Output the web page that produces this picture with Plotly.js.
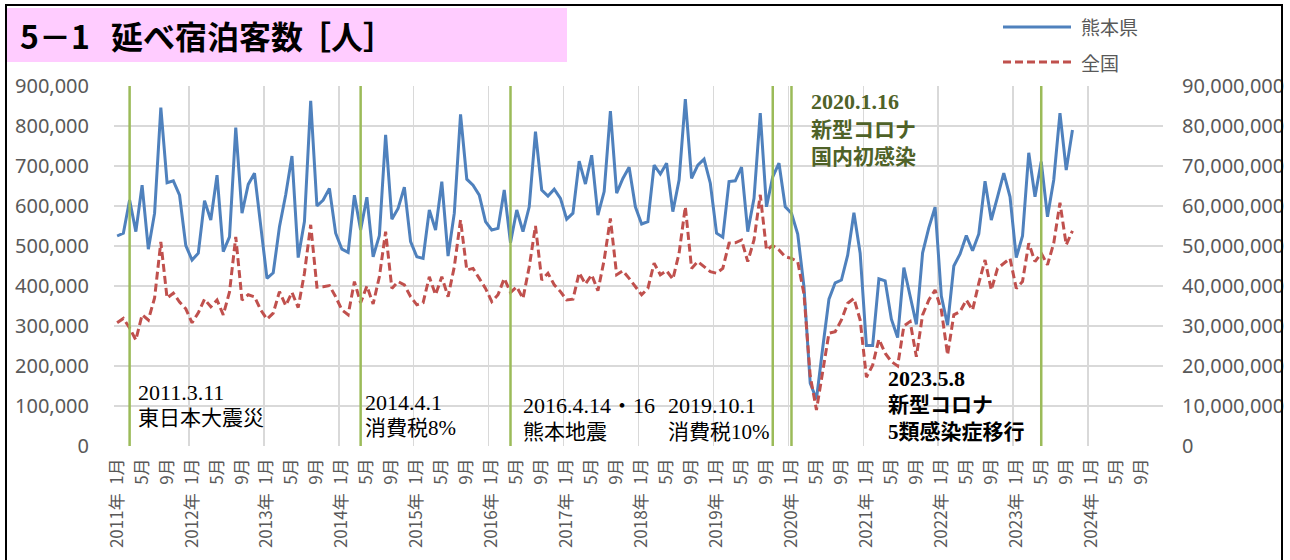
<!DOCTYPE html>
<html><head><meta charset="utf-8">
<script src="https://cdn.plot.ly/plotly-3.0.1.min.js"></script>
<style>html,body{margin:0;padding:0;background:#fff;}#chart{width:1290px;height:560px;}</style>
</head><body><div id="chart"></div>
<script>
// ---- data ----
const years = [2011,2012,2013,2014,2015,2016,2017,2018,2019,2020,2021,2022,2023,2024];
const monthNums = [1,2,3,4,5,6,7,8,9,10,11,12];
const tickMonths = [1,5,9];

// 熊本県 延べ宿泊客数 (人), 2011年1月〜2023年10月
const kumamoto = [
 525000,532000,615000,536000,652000,492000,582000,846000,658000,663000,627000,501000,
 465000,482000,613000,565000,677000,486000,523000,796000,582000,654000,682000,551000,
 419000,433000,548000,628000,725000,471000,561000,863000,600000,615000,644000,532000,
 492000,484000,627000,540000,622000,473000,526000,778000,567000,594000,647000,511000,
 473000,469000,590000,540000,661000,475000,582000,829000,667000,652000,627000,561000,
 540000,544000,640000,508000,590000,536000,598000,786000,640000,625000,642000,619000,
 567000,582000,712000,655000,727000,577000,636000,837000,632000,669000,697000,598000,
 555000,561000,702000,680000,707000,586000,665000,867000,669000,702000,717000,657000,
 532000,522000,661000,663000,697000,536000,619000,832000,598000,673000,707000,598000,
 582000,530000,398000,157000,117000,245000,367000,408000,415000,477000,583000,482000,
 251000,251000,418000,413000,317000,271000,446000,375000,304000,483000,546000,597000,
 375000,302000,450000,480000,526000,488000,530000,662000,565000,623000,682000,623000,
 471000,525000,733000,623000,711000,573000,665000,832000,690000,790000
];
// 全国 延べ宿泊客数 (人)
const zenkoku = [
 30800000,31900000,29500000,26500000,32800000,31500000,37000000,51000000,37000000,38200000,36000000,34300000,
 30800000,33300000,36700000,34800000,36500000,32800000,38500000,52300000,36500000,37800000,37300000,34000000,
 31700000,33200000,38600000,35100000,38400000,34600000,43200000,55300000,39700000,39800000,40100000,37300000,
 34000000,32800000,41100000,35800000,40000000,35500000,42300000,53600000,39400000,41100000,40300000,37300000,
 35300000,35800000,42300000,37800000,42300000,37300000,44800000,56500000,44000000,44400000,41900000,39400000,
 36100000,37800000,41900000,38400000,39800000,36900000,44800000,55000000,41500000,43200000,40300000,38600000,
 36500000,36700000,43300000,40500000,42800000,38800000,46500000,56900000,42800000,43800000,41900000,39800000,
 37800000,39400000,45700000,42800000,43800000,41700000,48200000,59800000,44400000,46100000,44800000,43600000,
 43200000,44400000,50700000,50800000,51500000,46100000,51500000,62800000,49000000,50100000,49000000,47300000,
 46900000,46100000,38000000,17500000,9000000,19000000,28200000,28600000,31500000,35700000,36900000,31500000,
 17200000,20200000,26700000,23200000,21100000,20000000,30000000,31100000,22300000,32800000,36500000,39000000,
 34000000,22800000,32800000,33600000,36500000,34000000,40700000,46500000,39000000,44400000,45700000,46900000,
 39400000,41100000,50700000,46100000,48200000,45300000,50700000,60800000,50300000,53800000
];

const eventMonths = ['2011-03','2014-04','2016-04','2019-10','2020-01','2023-05'];
const eventLabels = [
 ['2011.3.11','東日本大震災'],
 ['2014.4.1','消費税8%'],
 ['2016.4.14・16','熊本地震'],
 ['2019.10.1','消費税10%'],
 ['2020.1.16','新型コロナ','国内初感染'],
 ['2023.5.8','新型コロナ','5類感染症移行']
];
const seriesNames = ['熊本県','全国'];
const titleParts = ['5－1', '延べ宿泊客数', '［人］'];

// ---- build categories ----
const periods = [], periodText = [];
years.forEach(y => monthNums.forEach(m => {
  periods.push(y + '-' + String(m).padStart(2,'0'));
  periodText.push(m === 1 ? (y + '年\u2002' + m + '月') : (m + '月'));
}));
const tickvals = [], ticktext = [];
periods.forEach((p,i) => { const m = monthNums[i % 12]; if (tickMonths.includes(m)) { tickvals.push(i); ticktext.push(periodText[i]); } });
const xk = kumamoto.map((v,i) => i);
const xz = zenkoku.map((v,i) => i);

// ---- layout helpers (pixel -> paper) ----
const L = 114, T = 86, W = 1049, H = 360;
const px = X => (X - L) / W;
const py = Y => (T + H - Y) / H;

const gray = '#595959';
const grid = '#D9D9D9';
const green = '#9BBB59';
const numFont = {family: '"Noto Sans", "Noto Sans CJK JP", sans-serif', size: 20, color: gray};
const serif = '"Liberation Serif", "DejaVu Serif", "Noto Sans CJK JP", serif';
const gothic = '"Noto Sans CJK JP", sans-serif';

const traces = [
  {x: xk, y: kumamoto, name: seriesNames[0], type: 'scatter', mode: 'lines',
   line: {color: '#4F81BD', width: 3}, yaxis: 'y'},
  {x: xz, y: zenkoku, name: seriesNames[1], type: 'scatter', mode: 'lines',
   line: {color: '#C0504D', width: 3, dash: '8px,4px'}, yaxis: 'y2'}
];

const shapes = [];
shapes.push({type:'rect', xref:'paper', yref:'paper', x0: px(6), x1: px(1282), y0: py(600), y1: py(5),
  line:{color:'#000', width:2}, fillcolor:'rgba(0,0,0,0)', layer:'above'});
shapes.push({type:'rect', xref:'paper', yref:'paper', x0: px(7), x1: px(567), y0: py(62), y1: py(8),
  line:{width:0}, fillcolor:'#FFCCFF', layer:'below'});
eventMonths.forEach(e => {
  const i = periods.indexOf(e);
  shapes.push({type:'line', xref:'x', yref:'paper', x0: i, x1: i, y0: 0, y1: 1,
    line:{color: green, width: 2.5}, layer:'above'});
});
shapes.push({type:'line', xref:'paper', yref:'paper', x0: px(1003), x1: px(1071), y0: py(27), y1: py(27),
  line:{color:'#4F81BD', width:3}});
shapes.push({type:'line', xref:'paper', yref:'paper', x0: px(1003), x1: px(1071), y0: py(62), y1: py(62),
  line:{color:'#C0504D', width:3, dash:'8px,4px'}});

// event label placement: left x, first line centre y, line step
const annPos = [[137,392,26],[364,402,26],[522,405,27],[667,405,27],[810,102,27.5],[887,378,27]];
const annotations = [];
eventLabels.forEach((lines,k) => {
  const bold = k >= 4;
  lines.forEach((t,j) => {
    const latin = j === 0;
    annotations.push({xref:'paper', yref:'paper', x: px(annPos[k][0]), y: py(annPos[k][1] + j*annPos[k][2]),
      xanchor:'left', yanchor:'middle', align:'left', showarrow:false, borderpad:0,
      text: bold ? '<b>' + t + '</b>' : t,
      font:{family: serif, size: latin ? 22 : 21, color: k === 4 ? '#4F6228' : '#000'}});
  });
});
const titleX = [19, 110, 298];
titleParts.forEach((t,k) => {
  annotations.push({xref:'paper', yref:'paper', x: px(titleX[k]), y: py(35), xanchor:'left', yanchor:'middle',
    showarrow:false, borderpad:0, text: '<b>' + t + '</b>',
    font:{family: gothic, size: 32, color:'#000'}});
});
annotations.push({xref:'paper', yref:'paper', x: px(1079), y: py(27), xanchor:'left', yanchor:'middle',
  showarrow:false, text: seriesNames[0], font:{family: gothic, size: 19, color: gray}});
annotations.push({xref:'paper', yref:'paper', x: px(1079), y: py(62), xanchor:'left', yanchor:'middle',
  showarrow:false, text: seriesNames[1], font:{family: gothic, size: 19, color: gray}});

const layout = {
  width: 1290, height: 560,
  margin: {l: L, r: 1290 - L - W, t: T, b: 560 - T - H, pad: 0},
  paper_bgcolor: '#fff', plot_bgcolor: '#fff',
  showlegend: false,
  xaxis: {
    range: [-0.5, periods.length - 0.5], tickmode: 'array', tickvals: tickvals, ticktext: ticktext,
    tickangle: -90, showgrid: false, zeroline: false, showline: false, ticks: '',
    ticklabelstandoff: 8,
    tickfont: {family: gothic, size: 17, color: gray},
    minor: {tickmode: 'linear', tick0: -0.5, dtick: 12, showgrid: true, gridcolor: grid, gridwidth: 1.5, ticks: ''}
  },
  yaxis: {
    range: [0, 900000], dtick: 100000, tick0: 0, tickformat: ',d',
    showgrid: true, gridcolor: grid, gridwidth: 1.5, zeroline: false, showline: false, ticks: '',
    ticklabelstandoff: 24, tickfont: numFont
  },
  yaxis2: {
    range: [0, 90000000], dtick: 10000000, tick0: 0, tickformat: ',d',
    overlaying: 'y', side: 'right', showgrid: false, zeroline: false, showline: false, ticks: '',
    ticklabelstandoff: 18, tickfont: numFont
  },
  shapes: shapes,
  annotations: annotations
};

Plotly.newPlot('chart', traces, layout, {staticPlot: true, displayModeBar: false});
</script>
</body></html>
